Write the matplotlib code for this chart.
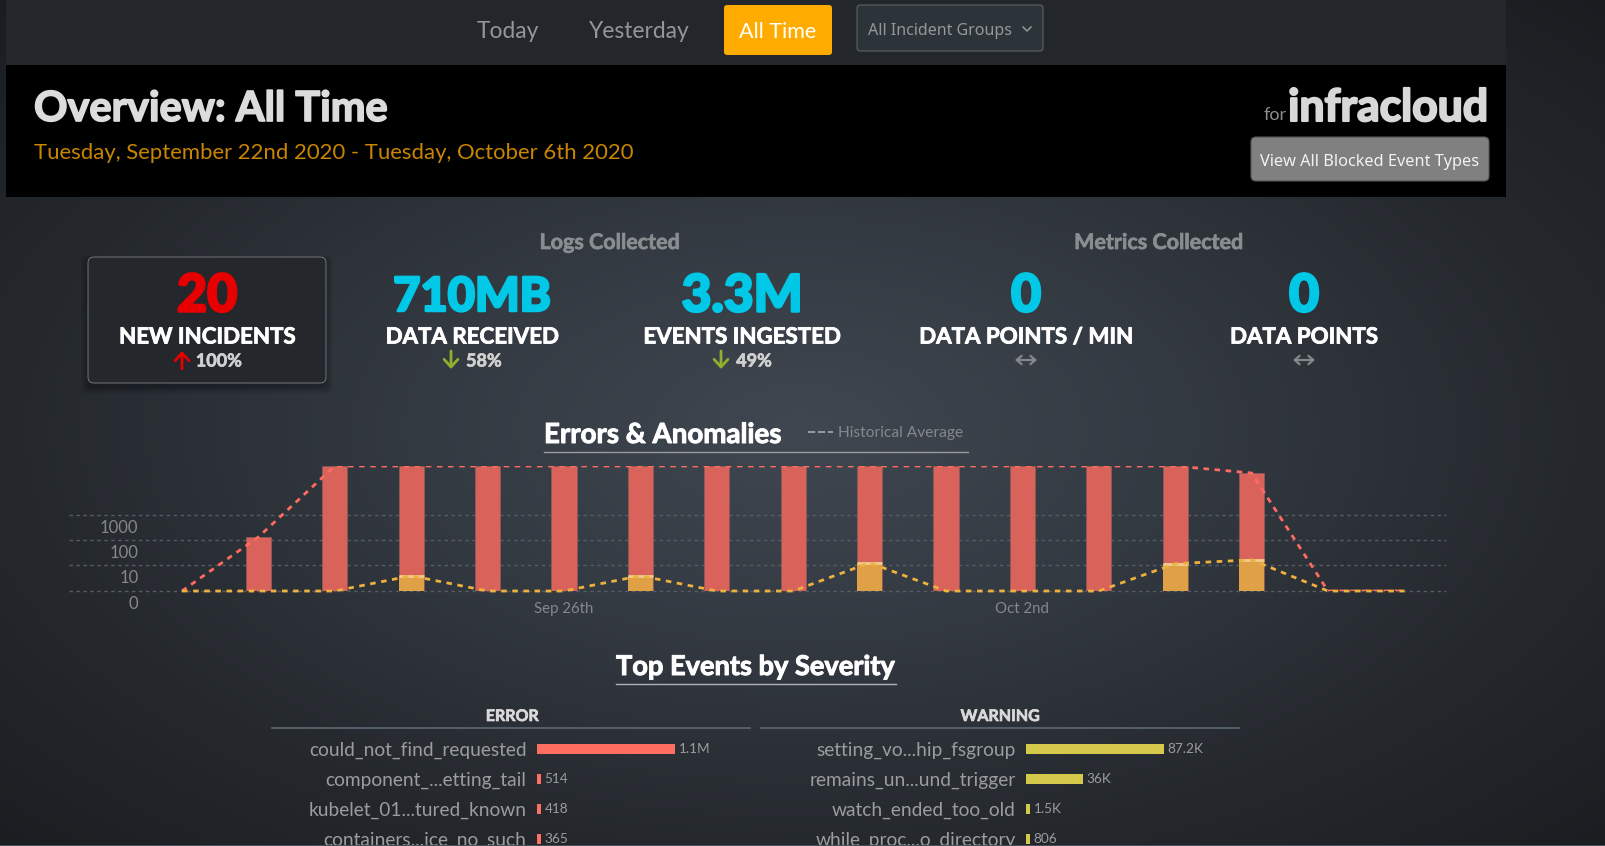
import numpy as np
import pandas as pd
import matplotlib
matplotlib.use('Agg')
import matplotlib.pyplot as plt
import matplotlib.patheffects as pe
from matplotlib.colors import LinearSegmentedColormap
from matplotlib.patches import FancyBboxPatch, Rectangle
from matplotlib.transforms import ScaledTranslation

W, H = 1606, 846
FONT = 'Lato'

# Errors & Anomalies per dag (log-skala, toppade staplar ar kapade)
days = pd.date_range('2020-09-21', periods=17)
errors = [0, 135, 87000, 87000, 87000, 87000, 87000, 87000, 87000, 87000,
          87000, 87000, 87000, 87000, 46000, 0, 0]
warnings = [0, 0, 0, 3, 0, 0, 3, 0, 0, 12, 0, 0, 0, 11, 16, 0, 0]

top_error = [('could_not_find_requested', 1100000, '1.1M'),
             ('component_...etting_tail', 514, '514'),
             ('kubelet_01...tured_known', 418, '418'),
             ('containers...ice_no_such', 365, '365')]
top_warning = [('setting_vo...hip_fsgroup', 87200, '87.2K'),
               ('remains_un...und_trigger', 36000, '36K'),
               ('watch_ended_too_old', 1500, '1.5K'),
               ('while_proc...o_directory', 806, '806')]


def axes_px(x0, y0, x1, y1):
    return fig.add_axes([x0 / W, 1 - y1 / H, (x1 - x0) / W, (y1 - y0) / H])


def put(x, y, s, size, color='white', ha='center', weight='normal', family=FONT, va='center', stroke=0):
    # va center hamnar nagot for hogt jamfort med originalet
    t = page.text(x, y + 2 if va == 'center' else y, s, fontsize=size * 0.72, color=color, ha=ha, va=va,
                  fontweight=weight, family=family)
    if stroke:
        t.set_path_effects([pe.withStroke(linewidth=stroke, foreground=color)])
    return t


fig = plt.figure(figsize=(W / 100, H / 100), dpi=100)

# bakgrund
bg = fig.add_axes([0, 0, 1, 1], zorder=0)
yy, xx = np.mgrid[0:H, 0:W]
r = np.sqrt(((xx - 800) / 800) ** 2 + ((yy - 430) / 430) ** 2) / 1.42
cmap = LinearSegmentedColormap.from_list('bg', [(0, '#3f4750'), (0.33, '#343a42'),
                                                (0.68, '#25292e'), (1, '#1a1d20')])
bg.imshow(r, cmap=cmap, vmin=0, vmax=1, aspect='auto', extent=(0, W, H, 0))
bg.axis('off')

page = fig.add_axes([0, 0, 1, 1], zorder=1)
page.set_xlim(0, W)
page.set_ylim(H, 0)
page.axis('off')

page.add_patch(Rectangle((6, 0), 1500, 65, color='#23272c', lw=0))
page.add_patch(Rectangle((6, 65), 1500, 132, color='black', lw=0))
page.add_patch(Rectangle((0, 845), W, 1, color='#4a5058', lw=0))

# navigering
put(508, 30, 'Today', 22.7, '#93959a')
put(639, 30, 'Yesterday', 22.7, '#93959a')
page.add_patch(FancyBboxPatch((726, 7), 104, 46, boxstyle='round,pad=2,rounding_size=3',
                              fc='#ffab00', ec='none'))
put(778, 30, 'All Time', 21.5, 'white')
page.add_patch(FancyBboxPatch((859, 7), 182, 42, boxstyle='round,pad=2,rounding_size=3',
                              fc='#2d3439', ec='#5c6266', lw=0.8))
put(868, 29, 'All Incident Groups', 16, '#94989b', ha='left', family='Noto Sans')
page.plot([1023, 1027, 1031], [27, 31, 27], color='#94989b', lw=1.1)

# rubrik
put(34, 107, 'Overview: All Time', 41.5, '#dcdcdc', ha='left', weight='bold', stroke=1.2)
put(34, 151, 'Tuesday, September 22nd 2020 - Tuesday, October 6th 2020', 22.2, '#c98500', ha='left')
put(1287, 120, 'for', 18, '#8d8d8d', ha='right', va='baseline')
put(1488, 121, 'infracloud', 44.5, '#d8d8d8', ha='right', weight='bold', va='baseline', stroke=1.5)
page.add_patch(FancyBboxPatch((1253, 139), 234, 40, boxstyle='round,pad=2,rounding_size=5',
                              fc='#808080', ec='#555555', lw=0.8))
put(1370, 160, 'View All Blocked Event Types', 16.3, '#f2f2f2', family='Noto Sans')

# kort med skugga
for i in range(8):
    page.add_patch(FancyBboxPatch((88 - i, 258 - i + 4), 238 + 2 * i, 125 + 2 * i,
                                  boxstyle='round,pad=0,rounding_size=6',
                                  fc='black', ec='none', alpha=0.035))
page.add_patch(FancyBboxPatch((88, 257), 238, 126, boxstyle='round,pad=0,rounding_size=6',
                              fc='#24272b', ec='#74777a', lw=0.7))

put(610, 241, 'Logs Collected', 21.5, '#8a8d90', weight='bold', stroke=0.5)
put(1159, 241, 'Metrics Collected', 21.5, '#8a8d90', weight='bold', stroke=0.5)

kpis = [(207, '20', 'NEW INCIDENTS', '#e80000', 52),
        (472, '710MB', 'DATA RECEIVED', '#00c8e6', 47),
        (742, '3.3M', 'EVENTS INGESTED', '#00c8e6', 51.5),
        (1026, '0', 'DATA POINTS / MIN', '#00c8e6', 52),
        (1304, '0', 'DATA POINTS', '#00c8e6', 52)]
for x, big, label, col, size in kpis:
    put(x, 295, big, size, col, weight='black', stroke=1.8)
    put(x, 335, label, 22.3, 'white', weight='bold', stroke=0.6)

# forandringar
changes = [(182, 219, '100%', '#e80000', 'up'), (451, 484, '58%', '#8fb02c', 'down'),
           (721, 754, '49%', '#8fb02c', 'down')]
for ax_x, txt_x, txt, col, way in changes:
    ends = ((ax_x, 351), (ax_x, 369)) if way == 'up' else ((ax_x, 369), (ax_x, 351))
    page.annotate('', xy=ends[0], xytext=ends[1],
                  arrowprops=dict(arrowstyle='->,head_width=0.5,head_length=0.55', color=col, lw=2,
                                  shrinkA=0, shrinkB=0))
    put(txt_x, 359, txt, 18, '#d0d0d0', weight='bold', stroke=0.5)
for x in (1026, 1304):
    page.annotate('', xy=(x - 11, 360), xytext=(x + 11, 360),
                  arrowprops=dict(arrowstyle='<->,head_width=0.3,head_length=0.35', color='#85888b', lw=1.6,
                                  shrinkA=0, shrinkB=0))

# Errors & Anomalies
put(544, 433, 'Errors & Anomalies', 27.7, 'white', ha='left', weight='bold', stroke=0.7)
page.plot([544, 968], [452, 452], color='#9a9c9e', lw=1)
page.plot([808, 833], [432, 432], color='#a0a2a5', lw=1.3, dashes=(4, 1.5))
put(838, 431, 'Historical Average', 15.5, '#85888b', ha='left')

ax = axes_px(69, 466, 1446, 591)
ax.patch.set_alpha(0)
ax.set_yscale('function', functions=(lambda v: np.log10(1 + np.maximum(v, 0)),
                                     lambda v: 10 ** v - 1))
ax.set_ylim(0, 87000)
x_num = matplotlib.dates.date2num(days)
ax.set_xlim(x_num[0] - (182 - 69) / 76.4, x_num[0] + (1446 - 182) / 76.4)
ax.bar(x_num, errors, width=0.33, color='#d9635b', edgecolor='#8f5c58', lw=0.5, zorder=2)
ax.bar(x_num, warnings, width=0.33, color='#e0a045', zorder=3)
shown = [i for i, v in enumerate(warnings) if v > 0]
ax.hlines([warnings[i] for i in shown], x_num[shown] - 0.165, x_num[shown] + 0.165,
          color='#f0cd8e', lw=2, zorder=4)
ax.plot(x_num, errors, color='#ff6a62', lw=2, dashes=(2, 2), zorder=5)
ax.plot(x_num, warnings, color='#eeb13e', lw=2, dashes=(2, 2), zorder=6, clip_on=False)
ax.set_yticks([0, 10, 100, 1000])
ax.set_yticklabels(['0', '10', '100', '1000'], fontsize=12, color='#85888b', family=FONT, va='top')
ax.minorticks_off()
ax.tick_params(axis='y', length=0, pad=-50)
for lab in ax.get_yticklabels():
    lab.set_transform(lab.get_transform() + ScaledTranslation(0, -3.5 / 72, fig.dpi_scale_trans))
ax.set_xticks(matplotlib.dates.date2num([pd.Timestamp('2020-09-26'), pd.Timestamp('2020-10-02')]))
ax.set_xticklabels(['Sep 26th', 'Oct 2nd'], fontsize=10.8, color='#85888b', family=FONT)
ax.tick_params(axis='x', length=0, pad=8)
ax.grid(axis='y', color='#565c64', lw=1, dashes=(2.5, 2.5), clip_on=False)
ax.set_axisbelow(True)
for s in ax.spines.values():
    s.set_visible(False)

# Top Events
put(616, 665, 'Top Events by Severity', 27.2, 'white', ha='left', weight='bold', stroke=0.7)
page.plot([616, 896], [684, 684], color='#b0b2b4', lw=1)
put(512, 715, 'ERROR', 16, '#d8d8d8', weight='bold', stroke=0.5)
put(1000, 715, 'WARNING', 16, '#d8d8d8', weight='bold', stroke=0.5)
page.plot([272, 750], [728, 728], color='#5c6872', lw=1.2)
page.plot([761, 1239], [728, 728], color='#5c6872', lw=1.2)


def severity_bars(x0, rows, col):
    names = [a[0] for a in rows]
    vals = np.array([a[1] for a in rows], dtype=float)
    a = axes_px(x0, 734, x0 + 200, 844)
    a.patch.set_alpha(0)
    xmax = vals.max() * 200 / 138
    # minsta stapelbredd 4 px precis som i originalet
    a.barh(range(len(vals)), np.maximum(vals, xmax * 4 / 200), height=1 / 3, color=col)
    a.set_xlim(0, xmax)
    a.set_ylim(3 + 5 / 30, -0.5)
    a.set_yticks(range(len(vals)))
    a.set_yticklabels(names, fontsize=13.8, color='#9a9c9e', family=FONT)
    a.tick_params(axis='y', length=0, pad=7.5)
    a.set_xticks([])
    for s in a.spines.values():
        s.set_visible(False)
    for i, row in enumerate(rows):
        a.annotate(row[2], (max(vals[i], xmax * 4 / 200), i), xytext=(2.5, 0), textcoords='offset points',
                   fontsize=9.8, color='#9a9c9e', va='center', family=FONT, annotation_clip=False)


severity_bars(537, top_error, '#ff6f61')
severity_bars(1026, top_warning, '#d4c94a')

plt.savefig('out.png', dpi=100)
